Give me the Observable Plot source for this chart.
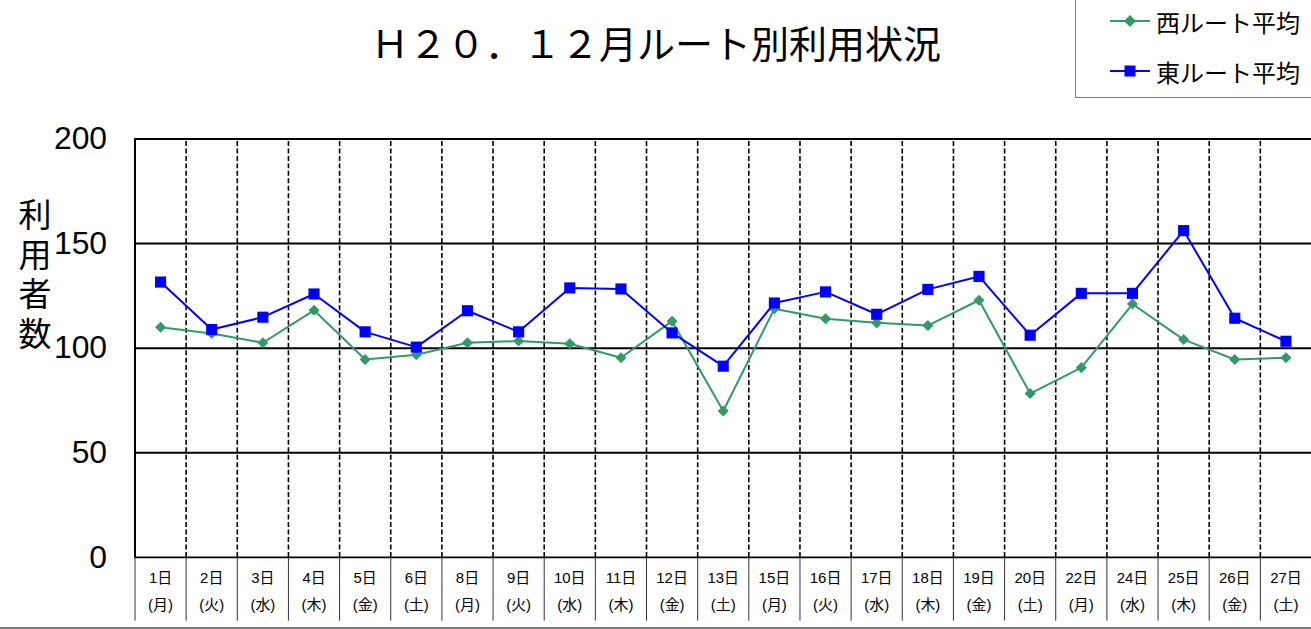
<!DOCTYPE html>
<html>
<head>
<meta charset="utf-8">
<script src="https://cdn.jsdelivr.net/npm/d3@7"></script>
<script src="https://cdn.jsdelivr.net/npm/@observablehq/plot@0.6"></script>
<style>
  html, body { margin: 0; padding: 0; background: #fff; }
  #wrap { position: relative; width: 1311px; height: 629px; overflow: hidden; font-family: "Noto Sans CJK JP", "Liberation Sans", sans-serif; }
  #title { position: absolute; left: 356px; width: 600px; top: 14px; text-align: center; font-size: 38px; line-height: 56px; color: #000; }
  #ylabel { position: absolute; left: 17px; top: 198px; writing-mode: vertical-rl; text-orientation: upright; font-size: 33px; letter-spacing: 6.5px; line-height: 36px; color: #000; }
  #legend { position: absolute; left: 1075px; top: -2px; width: 260px; height: 100px; border: 1.5px solid #7a7a7a; box-sizing: border-box; }
  .lg { position: absolute; left: 34px; height: 30px; display: flex; align-items: center; font-size: 24px; color: #000; white-space: nowrap; }
  .lg svg { margin-right: 6px; }
  #bottomline { position: absolute; left: 0; top: 627px; width: 1311px; height: 2px; background: #7a7a7a; }
  #chart { position: absolute; left: 0; top: 0; }
</style>
</head>
<body>
<div id="wrap">
  <div id="chart"></div>
  <div id="title">Ｈ２０．１２月ルート別利用状況</div>
  <div id="ylabel">利用者数</div>
  <div id="legend"></div>
  <div id="bottomline"></div>
</div>
<script>
const days = ["1日","2日","3日","4日","5日","6日","8日","9日","10日","11日","12日","13日","15日","16日","17日","18日","19日","20日","22日","24日","25日","26日","27日"];
const weekdays = ["(月)","(火)","(水)","(木)","(金)","(土)","(月)","(火)","(水)","(木)","(金)","(土)","(月)","(火)","(水)","(木)","(金)","(土)","(月)","(水)","(木)","(金)","(土)"];
const west = [110, 107, 102.6, 118.1, 94.6, 96.9, 102.6, 103.4, 102.1, 95.4, 112.9, 70, 118.8, 114.1, 112.1, 110.8, 122.9, 78.3, 90.7, 121.1, 104.1, 94.6, 95.4];
const east = [131.6, 108.9, 114.8, 125.9, 107.8, 100.5, 117.9, 107.8, 128.8, 128.3, 107.3, 91.4, 121.6, 126.9, 116.2, 128.1, 134.3, 106.2, 126.2, 126.2, 156.2, 114.3, 103.3];
const seriesNames = ["西ルート平均", "東ルート平均"];
const seriesColors = ["#339966", "#0000ff"];
const yTicks = [0, 50, 100, 150, 200];

const cats = days.map((d, i) => ({i, pos: i + 0.5, day: d, wd: weekdays[i]}));
const westData = west.map((v, i) => ({pos: i + 0.5, v}));
const eastData = east.map((v, i) => ({pos: i + 0.5, v}));
const boundaries = d3.range(1, days.length);
const allBounds = d3.range(0, days.length);

const plot = Plot.plot({
  width: 1316,
  height: 629,
  marginLeft: 135,
  marginRight: 0,
  marginTop: 139,
  marginBottom: 70,
  style: {fontFamily: "'Liberation Sans', 'Noto Sans CJK JP', sans-serif", background: "transparent", overflow: "visible"},
  x: {domain: [0, days.length], axis: null},
  y: {domain: [0, 200], axis: null},
  marks: [
    Plot.ruleX(boundaries, {x: d => d, y1: 0, y2: 200, stroke: "#000", strokeWidth: 1.6, strokeDasharray: "5,2.5"}),
    Plot.ruleX(allBounds, {x: d => d, stroke: "#333", strokeWidth: 1, insetTop: 420, insetBottom: -64}),
    Plot.ruleY(yTicks, {stroke: "#000", strokeWidth: 2}),
    Plot.ruleX([0], {y1: 0, y2: 200, stroke: "#000", strokeWidth: 2}),
    Plot.axisY({ticks: yTicks, tickSize: 0, tickPadding: 28, fontSize: 32, label: null, fill: "#000", fontFamily: "'Liberation Sans', sans-serif"}),
    Plot.text(cats, {x: "pos", text: "day", frameAnchor: "bottom", dy: 21, lineAnchor: "middle", fontSize: 15, fill: "#000", fontFamily: "'Liberation Sans', 'Noto Sans CJK JP', sans-serif"}),
    Plot.text(cats, {x: "pos", text: "wd", frameAnchor: "bottom", dy: 48, lineAnchor: "middle", fontSize: 15, fill: "#000", fontFamily: "'Liberation Sans', 'Noto Sans CJK JP', sans-serif"}),
    Plot.line(westData, {x: "pos", y: "v", stroke: seriesColors[0], strokeWidth: 2}),
    Plot.dot(westData, {x: "pos", y: "v", symbol: "diamond2", r: 5, fill: seriesColors[0], stroke: "none"}),
    Plot.line(eastData, {x: "pos", y: "v", stroke: seriesColors[1], strokeWidth: 2}),
    Plot.dot(eastData, {x: "pos", y: "v", symbol: "square", r: 6.3, fill: seriesColors[1], stroke: "none"})
  ]
});
document.getElementById("chart").appendChild(plot);

const legend = document.getElementById("legend");
const markers = [
  '<polygon points="20,5 26,11 20,17 14,11" fill="' + seriesColors[0] + '"/>',
  '<rect x="14.5" y="5.5" width="11" height="11" fill="' + seriesColors[1] + '"/>'
];
const tops = [7, 57];
seriesNames.forEach((name, k) => {
  const div = document.createElement("div");
  div.className = "lg";
  div.style.top = tops[k] + "px";
  div.innerHTML = '<svg width="40" height="22"><line x1="0" y1="11" x2="40" y2="11" stroke="' + seriesColors[k] + '" stroke-width="2"/>' + markers[k] + '</svg><span>' + name + '</span>';
  legend.appendChild(div);
});
</script>
</body>
</html>
